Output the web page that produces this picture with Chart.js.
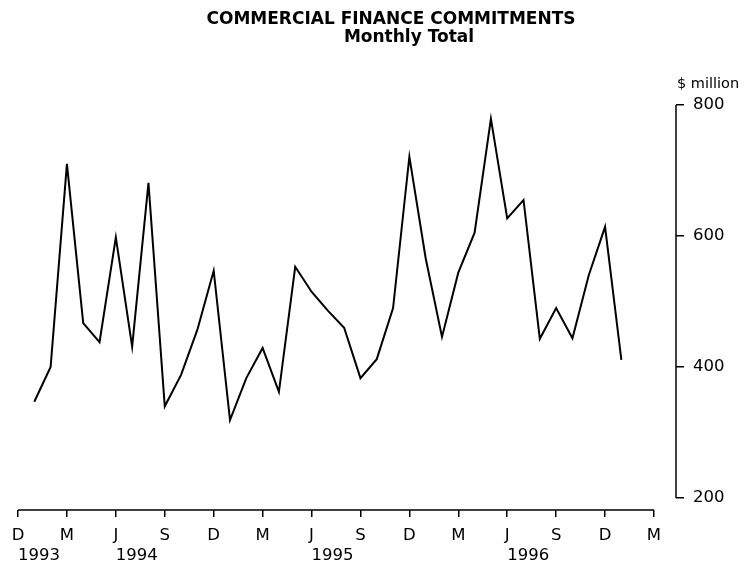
<!DOCTYPE html>
<html lang="en">
<head>
  <meta charset="UTF-8">
  <title>Commercial Finance Commitments</title>
  <style>
    body { margin: 0; background: #fff; }
  </style>
</head>
<body>
  <canvas id="myChart" width="750" height="565"></canvas>

  <script src="https://cdn.jsdelivr.net/npm/chart.js"></script>

  <script>
    // month ticks run every 3 months from Dec 1993 (index 0) to Mar 1997 (index 39)
    const monthLetters = ['D', 'M', 'J', 'S', 'D', 'M', 'J', 'S', 'D', 'M', 'J', 'S', 'D', 'M'];
    const yearLabels = ['1993', '1994', '1995', '1996'];
    const yearTickMonths = [0, 6, 18, 30];
    const yTicks = [200, 400, 600, 800];

    const months = [
      'Jan 1994', 'Feb 1994', 'Mar 1994', 'Apr 1994', 'May 1994', 'Jun 1994',
      'Jul 1994', 'Aug 1994', 'Sep 1994', 'Oct 1994', 'Nov 1994', 'Dec 1994',
      'Jan 1995', 'Feb 1995', 'Mar 1995', 'Apr 1995', 'May 1995', 'Jun 1995',
      'Jul 1995', 'Aug 1995', 'Sep 1995', 'Oct 1995', 'Nov 1995', 'Dec 1995',
      'Jan 1996', 'Feb 1996', 'Mar 1996', 'Apr 1996', 'May 1996', 'Jun 1996',
      'Jul 1996', 'Aug 1996', 'Sep 1996', 'Oct 1996', 'Nov 1996', 'Dec 1996',
      'Jan 1997'
    ];
    const commitments = [
      347, 400, 710, 467, 438, 598, 431, 681, 340, 388, 457, 547,
      319, 383, 429, 362, 553, 515, 486, 460, 383, 412, 490, 721,
      566, 446, 544, 605, 779, 627, 655, 443, 490, 444, 540, 614,
      411
    ];

    const firstMonth = 1; // Jan 1994 sits one month after the Dec 1993 tick

    const points = commitments.map((v, i) => ({ x: firstMonth + i, y: v }));

    Chart.defaults.font.family = '"DejaVu Sans", sans-serif';
    Chart.defaults.font.size = 16.5;
    Chart.defaults.color = '#000';

    // axis lines and the text that sits outside the scales
    const extras = {
      id: 'extras',
      afterDraw(chart) {
        const { ctx, chartArea, scales } = chart;
        const x = scales.x, y = scales.y;
        ctx.save();
        ctx.strokeStyle = '#000';
        ctx.lineWidth = 1.5;
        ctx.beginPath();
        ctx.moveTo(x.getPixelForValue(0), chartArea.bottom);
        ctx.lineTo(x.getPixelForValue(39), chartArea.bottom);
        ctx.moveTo(chartArea.right, y.getPixelForValue(800));
        ctx.lineTo(chartArea.right, y.getPixelForValue(200));
        ctx.stroke();

        ctx.fillStyle = '#000';
        ctx.textBaseline = 'middle';
        ctx.textAlign = 'center';
        ctx.font = 'bold 17px "DejaVu Sans", sans-serif';
        ctx.fillText('COMMERCIAL FINANCE COMMITMENTS', 391, 20);
        ctx.fillText('Monthly Total', 409, 38);

        ctx.textAlign = 'left';
        ctx.font = '14.5px "DejaVu Sans", sans-serif';
        ctx.fillText('$ million', chartArea.right + 1, y.getPixelForValue(800) - 21);
        ctx.restore();
      }
    };

    const ctx = document.getElementById('myChart').getContext('2d');
    const chart = new Chart(ctx, {
      type: 'line',
      data: {
        labels: months,
        datasets: [{
          label: 'Commercial finance commitments',
          data: points,
          borderColor: '#000',
          borderWidth: 2,
          pointRadius: 0,
          tension: 0,
          fill: false
        }]
      },
      options: {
        responsive: false,
        animation: false,
        layout: { padding: { left: 18, top: 105, right: 0, bottom: 0 } },
        plugins: {
          legend: { display: false },
          tooltip: { enabled: false }
        },
        scales: {
          x: {
            type: 'linear',
            position: 'bottom',
            min: 0,
            max: 40.35,
            afterBuildTicks: (s) => { s.ticks = monthLetters.map((_, i) => ({ value: i * 3 })); },
            afterFit: (s) => { s.height = 36; },
            ticks: {
              autoSkip: false,
              maxRotation: 0,
              padding: 9,
              callback: (v) => monthLetters[Math.round(v / 3)]
            },
            grid: { drawOnChartArea: false, tickLength: 7, color: '#000', lineWidth: 1.5 },
            border: { display: false }
          },
          x2: {
            type: 'linear',
            position: 'bottom',
            weight: 1,
            min: 0,
            max: 40.35,
            afterBuildTicks: (s) => { s.ticks = yearTickMonths.map(v => ({ value: v })); },
            afterFit: (s) => { s.height = 19; },
            ticks: {
              autoSkip: false,
              maxRotation: 0,
              align: 'start',
              padding: 0,
              callback: (v, i) => yearLabels[i]
            },
            grid: { display: false, drawTicks: false },
            border: { display: false }
          },
          y: {
            type: 'linear',
            position: 'right',
            min: 181.7,
            max: 800,
            afterBuildTicks: (s) => { s.ticks = yTicks.map(v => ({ value: v })); },
            afterFit: (s) => { s.width = 74; },
            ticks: { padding: 9 },
            grid: { drawOnChartArea: false, tickLength: 8, color: '#000', lineWidth: 1.5 },
            border: { display: false }
          }
        }
      },
      plugins: [extras]
    });
  </script>
</body>
</html>
